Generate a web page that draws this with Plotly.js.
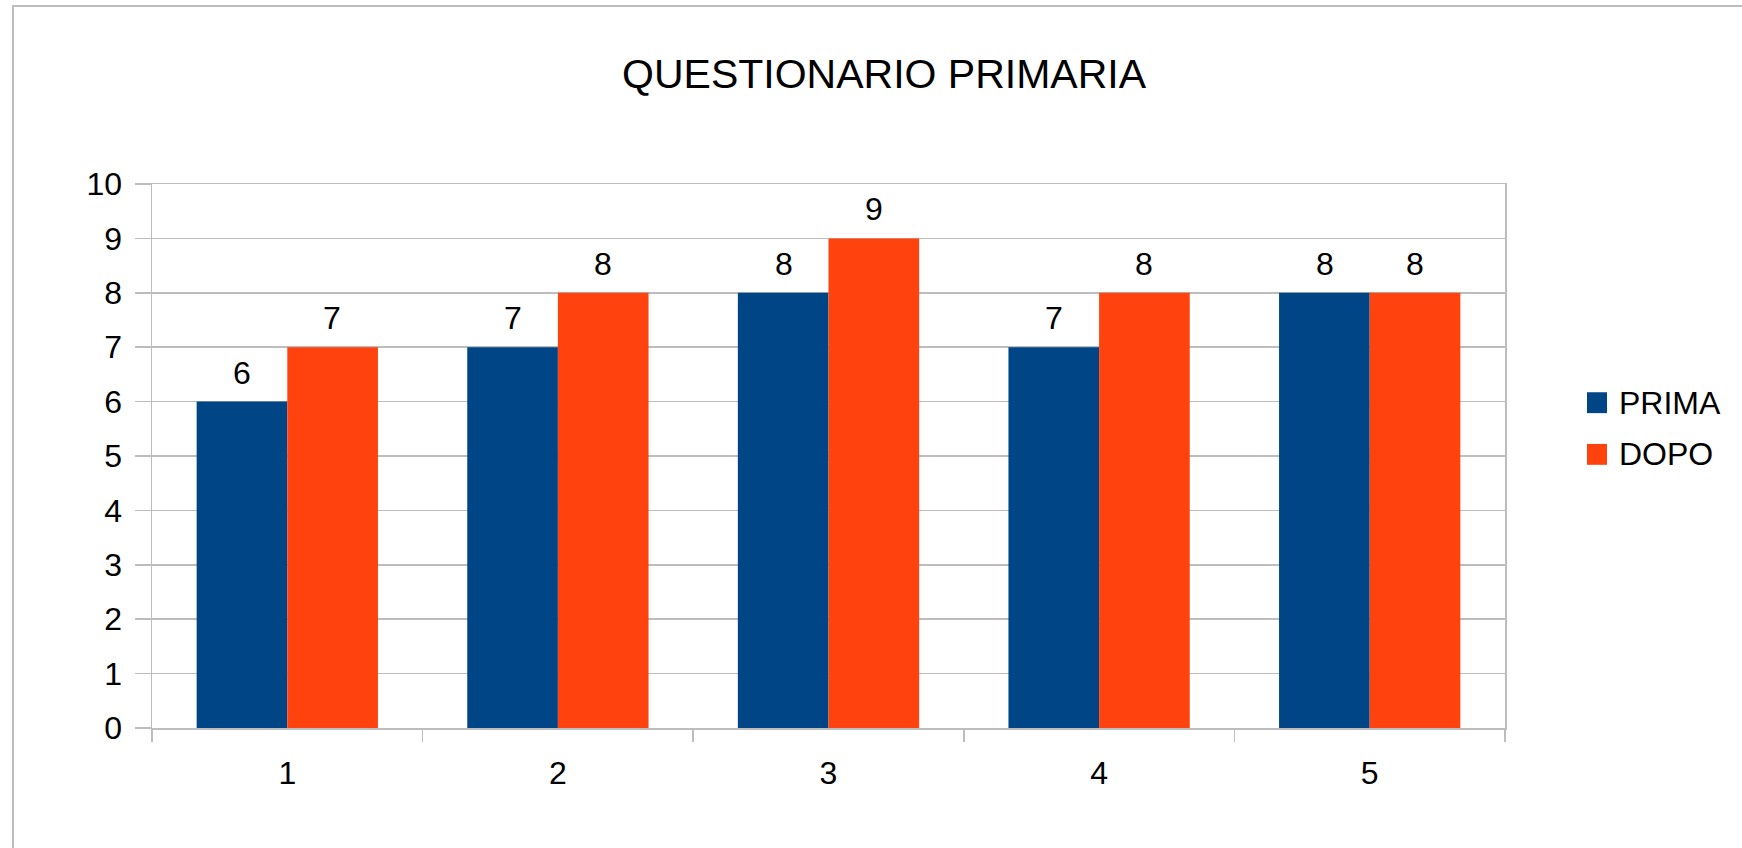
<!DOCTYPE html>
<html>
<head>
<meta charset="utf-8">
<script src="https://cdn.plot.ly/plotly-3.0.1.min.js"></script>
<style>
  html, body { margin: 0; padding: 0; background: #ffffff; overflow: hidden; }
  #chart { width: 1742px; height: 848px; }
  #frame { position: absolute; left: 12px; top: 5px; width: 3000px; height: 3000px;
           border-left: 2px solid #bdbdbd; border-top: 2px solid #bdbdbd; pointer-events: none; }
</style>
</head>
<body>
<div id="chart"></div>
<div id="frame"></div>
<script>
// ---- data ----
const chartTitle = "QUESTIONARIO PRIMARIA";
const categories = ["1", "2", "3", "4", "5"];
const seriesNames = ["PRIMA", "DOPO"];
const prima = [6, 7, 8, 7, 8];
const dopo = [7, 8, 9, 8, 8];
const yTicks = [0, 1, 2, 3, 4, 5, 6, 7, 8, 9, 10];

// ---- styling ----
const colors = ["#004586", "#ff420e"];
const FONT = "Liberation Sans, Arial, sans-serif";
const series = [prima, dopo];
const gridColor = "#bdbdbd";

const traces = series.map((vals, k) => ({
  type: "bar",
  name: seriesNames[k],
  x: categories,
  y: vals,
  marker: { color: colors[k], line: { width: 0 } },
  hoverinfo: "x+y+name",
  showlegend: false
}));

// value labels above each bar, offset left/right for the grouped pair
const annotations = [];
const offsets = [-45, 45];
series.forEach((vals, k) => {
  vals.forEach((v, i) => {
    annotations.push({
      x: i, y: v, xref: "x", yref: "y",   // category index on the category axis
      text: String(v), showarrow: false,
      xanchor: "center", yanchor: "bottom",
      xshift: offsets[k], yshift: 9,
      font: { family: FONT, size: 32, color: "#000000" }
    });
  });
});

// custom legend (large swatches like the reference)
const legendRows = [0.598, 0.503];
const shapes = [];
seriesNames.forEach((nm, k) => {
  const yc = legendRows[k];
  shapes.push({
    type: "rect", xref: "paper", yref: "paper",
    x0: 1.0606, x1: 1.0754, y0: yc - 0.0192, y1: yc + 0.0192,
    fillcolor: colors[k], line: { width: 0 }
  });
  annotations.push({
    xref: "paper", yref: "paper", x: 1.0828, y: yc,
    xanchor: "left", yanchor: "middle", showarrow: false,
    text: nm, font: { family: FONT, size: 32, color: "#000000" }
  });
});

const layout = {
  width: 1742, height: 848,
  margin: { l: 152, r: 237, t: 184, b: 120, pad: 0 },
  paper_bgcolor: "#ffffff", plot_bgcolor: "#ffffff",
  font: { family: FONT, size: 32, color: "#000000" },
  title: {
    text: chartTitle,
    font: { family: FONT, size: 41, color: "#000000" },
    xref: "container", yref: "container",
    x: 0.5075, xanchor: "center", y: 0.9127, yanchor: "middle"
  },
  bargap: 0.33, bargroupgap: 0, barmode: "group",
  showlegend: false,
  xaxis: {
    type: "category",
    range: [-0.5, categories.length - 0.5],
    showgrid: false,
    showline: true, linecolor: gridColor, linewidth: 1.5, mirror: true,
    ticks: "outside", tickson: "boundaries", ticklen: 12, tickcolor: gridColor, tickwidth: 1.5,
    tickfont: { family: FONT, size: 32, color: "#000000" },
    ticklabelstandoff: 16,
    fixedrange: true
  },
  yaxis: {
    range: [0, 10],
    tickvals: yTicks,
    ticktext: yTicks.map(String),
    showgrid: true, gridcolor: gridColor, gridwidth: 1.5,
    zeroline: false,
    showline: true, linecolor: gridColor, linewidth: 1.5, mirror: true,
    ticks: "outside", ticklen: 16, tickcolor: gridColor, tickwidth: 1.5,
    tickfont: { family: FONT, size: 32, color: "#000000" },
    ticklabelstandoff: 6,
    fixedrange: true
  },
  annotations: annotations,
  shapes: shapes
};

Plotly.newPlot("chart", traces, layout, { displayModeBar: false, staticPlot: true });
</script>
</body>
</html>
